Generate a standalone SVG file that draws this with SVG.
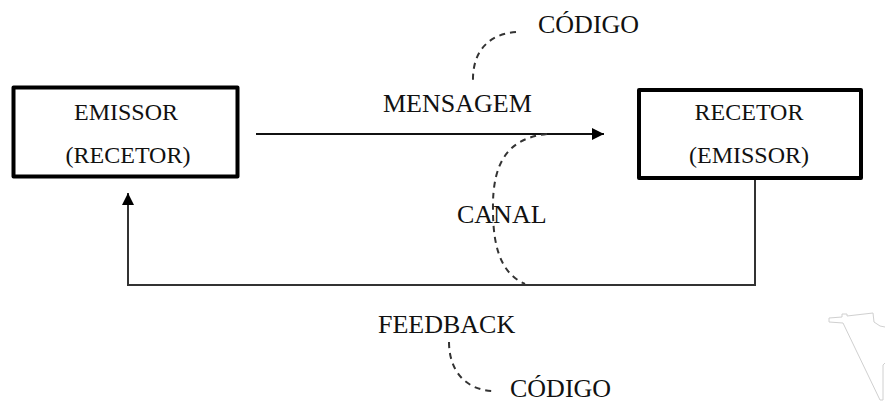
<svg xmlns="http://www.w3.org/2000/svg" width="885" height="404" viewBox="0 0 885 404">
<style>
.box{fill:#fff;stroke:#000;stroke-width:4;stroke-linejoin:round}
.bt{font-family:"Liberation Serif","Times New Roman",serif;font-size:24px;fill:#111;text-anchor:middle}
.lb{font-family:"Liberation Serif","Times New Roman",serif;font-size:26px;fill:#111}
.ln{fill:none;stroke:#111;stroke-width:2}
.fb{fill:none;stroke:#333;stroke-width:2}
.ds{fill:none;stroke:#333;stroke-width:2;stroke-dasharray:6 5}
</style>
<defs>
<marker id="ah" viewBox="0 0 10 10" refX="10" refY="5" markerWidth="12" markerHeight="12" markerUnits="userSpaceOnUse" orient="auto">
<path d="M0,0 L10,5 L0,10 Z" fill="#000"/>
</marker>
</defs>
<g id="emissor">
<rect class="box" x="13.5" y="87.5" width="224" height="89"/>
<text class="bt" x="126" y="120">EMISSOR</text>
<text class="bt" x="128" y="163">(RECETOR)</text>
</g>
<g id="recetor">
<rect class="box" x="639" y="90" width="222" height="88"/>
<text class="bt" x="749" y="120">RECETOR</text>
<text class="bt" x="749" y="163">(EMISSOR)</text>
</g>
<g id="connectors">
<line class="ln" x1="256" y1="134" x2="604" y2="134" marker-end="url(#ah)"/>
<polyline class="fb" points="755,180 755,285 128,285 128,193" marker-end="url(#ah)"/>
<path class="ds" d="M516,32 C490,34 472,50 473,82"/>
<path class="ds" d="M547,134 C510,138 492,160 493,210 C493,255 505,275 525,284"/>
<path class="ds" d="M449,342 C449,370 465,390 493,391"/>
</g>
<g id="labels">
<text class="lb" x="538" y="33">CÓDIGO</text>
<text class="lb" x="383" y="112">MENSAGEM</text>
<text class="lb" x="457" y="223">CANAL</text>
<text class="lb" x="378" y="333">FEEDBACK</text>
<text class="lb" x="510" y="397">CÓDIGO</text>
</g>
<g id="artifact" fill="none" stroke="#d0d0d0" stroke-width="1">
<polyline points="885,327 880,326 874,322 873,313 847,316 847,314 842,314 842,317 829,318 829,322 843,323 880,400 883,400 883,365 885,363"/>
</g>
</svg>
